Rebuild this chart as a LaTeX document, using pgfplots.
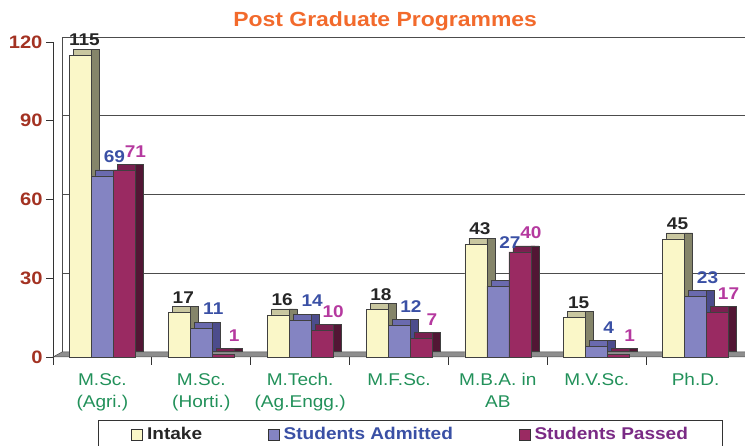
\documentclass[border=0pt]{standalone}
\usepackage{pgfplots}
\pgfplotsset{compat=1.18}
\usepackage{fontspec}
\setmainfont[FakeStretch=1.12]{Liberation Sans}
\definecolor{intakeF}{HTML}{FAF7C8}
\definecolor{intakeS}{HTML}{85856A}
\definecolor{intakeT}{HTML}{C9C7A0}
\definecolor{admF}{HTML}{8484C2}
\definecolor{admS}{HTML}{4C4C8C}
\definecolor{admT}{HTML}{6A6AAE}
\definecolor{pasF}{HTML}{9A2A62}
\definecolor{pasS}{HTML}{521634}
\definecolor{pasT}{HTML}{7A2050}
\definecolor{titleC}{HTML}{F26A2C}
\definecolor{tickC}{HTML}{A33222}
\definecolor{catC}{HTML}{22915A}
\definecolor{admL}{HTML}{3A50A5}
\definecolor{pasL}{HTML}{B5399F}
\definecolor{pasLeg}{HTML}{7A2A85}
\definecolor{floorC}{HTML}{8E8E8E}
\pgfplotstableread{
x intake adm pas admoff
0 115 69 71 0
1 17 11 1 0
2 16 14 10 0
3 18 12 7 0
4 43 27 40 24
5 15 4 1 0
6 45 23 17 0
}\datatab
\begin{document}
\begin{tikzpicture}
\begin{axis}[
  set layers,
  scale only axis, width=692pt, height=315pt,
  xmin=-0.5, xmax=6.5, ymin=0, ymax=120,
  clip=false,
  axis x line*=bottom, axis y line*=left,
  x axis line style={draw=none},
  y axis line style={black!80, line width=0.8pt},
  ytick={0,30,60,90,120},
  yticklabel style={font=\fontsize{18}{18}\bfseries\selectfont, text=tickC},
  /pgf/number format/assume math mode=true,
  ytick style={black!80, line width=0.8pt},
  tick align=outside, major tick length=7pt,
  xtick={0,...,6},
  xticklabels={{M.Sc.\\(Agri.)},{M.Sc.\\(Horti.)},{M.Tech.\\(Ag.Engg.)},{M.F.Sc.},{M.B.A. in\\AB},{M.V.Sc.},{Ph.D.}},
  xticklabel style={align=center, font=\fontsize{17}{22}\selectfont, text=catC, yshift=-6pt},
  xtick style={draw=none},
  extra x ticks={-0.5,0.5,1.5,2.5,3.5,4.5,5.5},
  extra x tick labels={},
  extra x tick style={xtick style={draw=black!80, line width=0.8pt}, major tick length=8pt},
  ymajorgrids, grid style={black!70, line width=0.7pt, xshift=9pt, yshift=5pt},
  title={Post Graduate Programmes},
  title style={at={(axis description cs:0.48,1)}, anchor=base, yshift=9pt, font=\fontsize{20.5}{20.5}\bfseries\selectfont, text=titleC},
  bar width=22pt,
  every axis plot/.append style={draw=black!75, line width=0.5pt},
  legend style={at={(rel axis cs:0.065,0)}, anchor=north west, yshift=-63pt, draw=black!80, line width=1pt,
    legend columns=3, font=\fontsize{17}{17}\bfseries\selectfont, inner xsep=33pt, inner ysep=5pt,
    /tikz/every even column/.append style={column sep=64pt},
    /tikz/every odd column/.append style={column sep=2pt}},
  legend image code/.code={\draw[#1,/tikz/.cd,line width=0.6pt,draw=black!80] (0pt,-6pt) rectangle (11pt,5pt);},
  nodes near coords style={font=\fontsize{17}{17}\bfseries\selectfont, anchor=south, inner sep=0pt},
]
% floor
\fill[floorC, draw=black!70, line width=0.5pt] (axis cs:-0.5,0) -- ([shift={(9pt,5pt)}]axis cs:-0.5,0) -- ([shift={(9pt,5pt)}]axis cs:6.5,0) -- (axis cs:6.5,0) -- cycle;
\draw[black!70, line width=0.7pt] ([shift={(9pt,5pt)}]axis cs:-0.5,0) -- ([shift={(9pt,5pt)}]axis cs:-0.5,120);
% Intake
\addplot[ybar, forget plot, fill=intakeT, bar width=22pt, bar shift=-18pt, yshift=6pt] table[x=x,y=intake]{\datatab};
\addplot[ybar, forget plot, fill=intakeS, bar width=8pt, bar shift=-7pt, yshift=6pt] table[x=x,y=intake]{\datatab};
\addplot[ybar, fill=intakeF, bar shift=-22pt] table[x=x,y=intake]{\datatab};
\addlegendentry{\textcolor{black!85}{Intake}}
% Admitted
\addplot[ybar, forget plot, fill=admT, bar width=22pt, bar shift=4pt, yshift=6pt] table[x=x,y=adm]{\datatab};
\addplot[ybar, forget plot, fill=admS, bar width=8pt, bar shift=15pt, yshift=6pt] table[x=x,y=adm]{\datatab};
\addplot[ybar, fill=admF, bar shift=0pt] table[x=x,y=adm]{\datatab};
\addlegendentry{\textcolor{admL}{Students Admitted}}
% Passed
\addplot[ybar, forget plot, fill=pasT, bar width=22pt, bar shift=26pt, yshift=6pt] table[x=x,y=pas]{\datatab};
\addplot[ybar, forget plot, fill=pasS, bar width=8pt, bar shift=37pt, yshift=6pt] table[x=x,y=pas]{\datatab};
\addplot[ybar, fill=pasF, bar shift=22pt] table[x=x,y=pas]{\datatab};
\addlegendentry{\textcolor{pasLeg}{Students Passed}}
% value labels on top
\addplot[ybar, on layer=axis foreground, forget plot, draw=none, fill=none, bar shift=-22pt, nodes near coords, nodes near coords style={text=black!85, xshift=-18pt, yshift=9pt}] table[x=x,y=intake]{\datatab};
\addplot[ybar, on layer=axis foreground, forget plot, draw=none, fill=none, bar shift=0pt,
  visualization depends on={\thisrow{admoff} \as \labeloff},
  nodes near coords, nodes near coords style={text=admL, xshift=12pt, yshift=13pt+\labeloff pt}] table[x=x,y=adm]{\datatab};
\addplot[ybar, on layer=axis foreground, forget plot, draw=none, fill=none, bar shift=22pt, nodes near coords, nodes near coords style={text=pasL, xshift=33pt, yshift=13pt}] table[x=x,y=pas]{\datatab};
\end{axis}
\pgfresetboundingbox
\path (-53pt,-89pt) rectangle (692pt,357pt);
\end{tikzpicture}
\end{document}
